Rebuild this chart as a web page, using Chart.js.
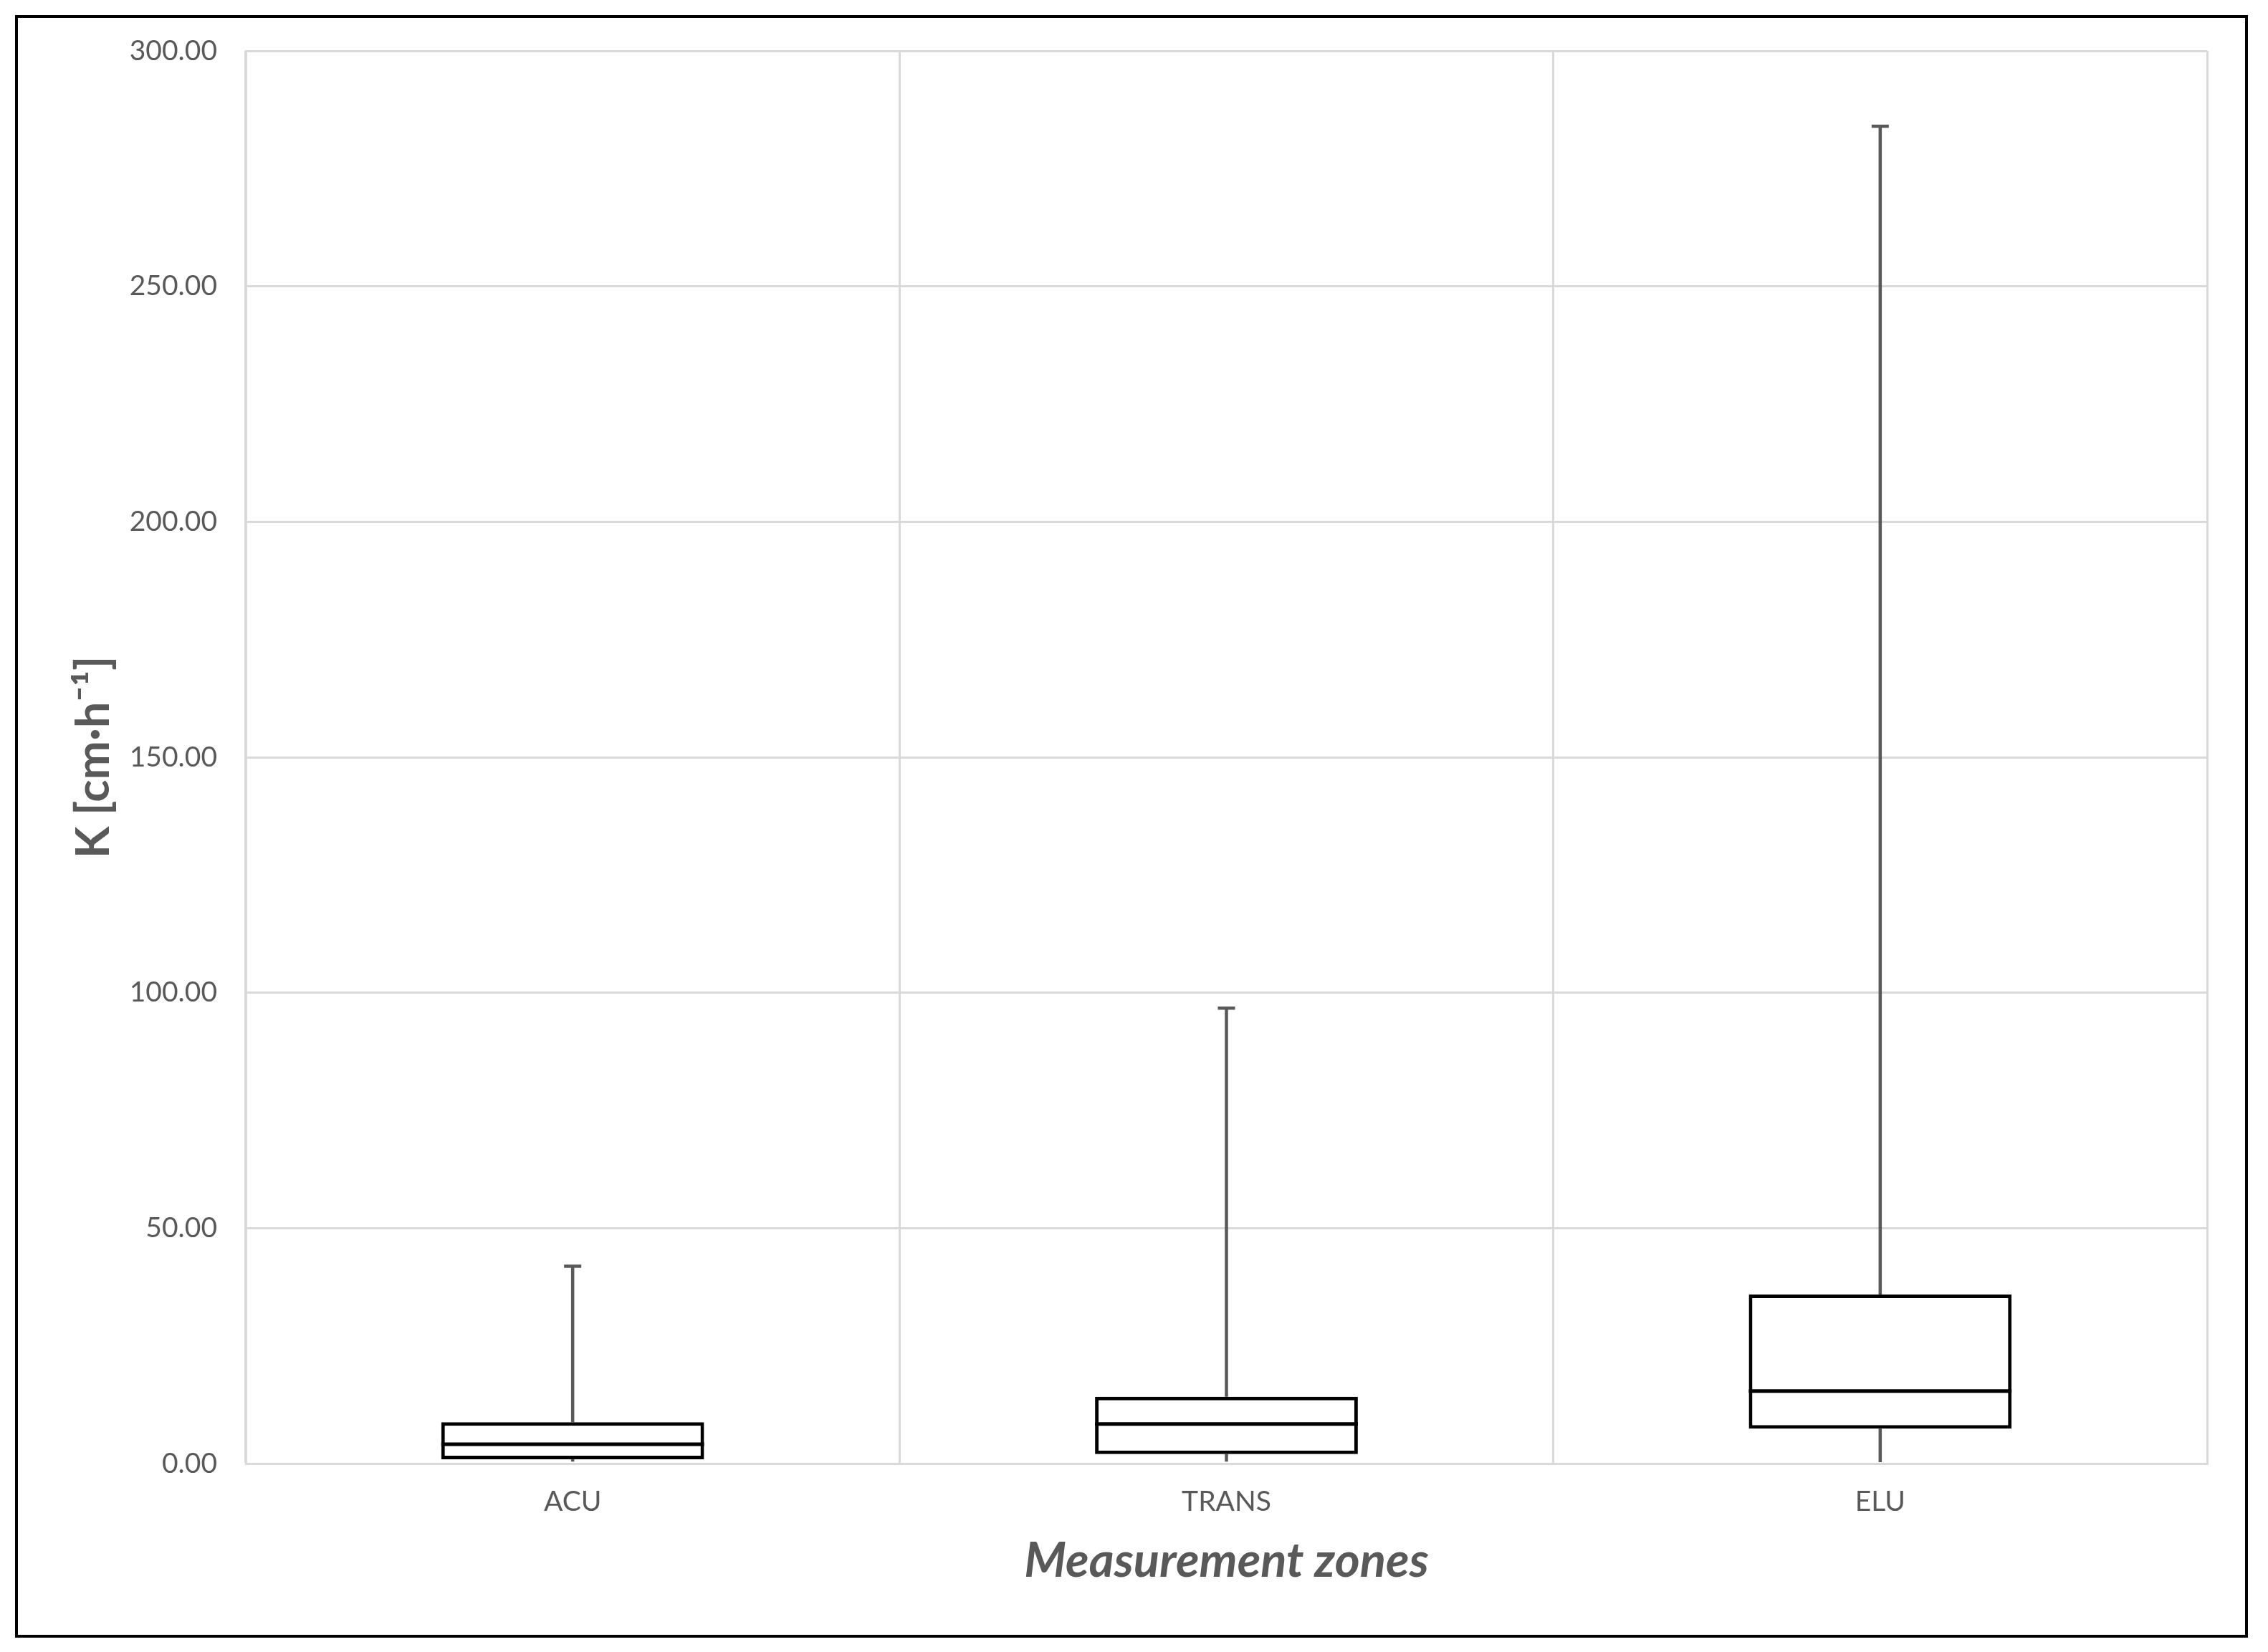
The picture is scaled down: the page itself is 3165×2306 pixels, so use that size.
<!DOCTYPE html>
<html>
<head>
<meta charset="utf-8">
<script src="https://cdn.jsdelivr.net/npm/chart.js@4.4.0/dist/chart.umd.min.js"></script>
<style>
  html, body { margin: 0; padding: 0; background: #fff; }
  canvas { display: block; }
</style>
</head>
<body>
<canvas id="chart" width="3165" height="2306"></canvas>
<script>
// box plot values (K in cm/h)
const zones = ['ACU', 'TRANS', 'ELU'];
const minVals = [0.4, 0.4, 0.3];
const q1Vals = [0.9, 2.0, 7.4];
const medianVals = [4.1, 8.4, 15.4];
const q3Vals = [8.8, 14.2, 35.9];
const maxVals = [41.9, 96.7, 284.0];
const yTicks = [0, 50, 100, 150, 200, 250, 300];

const grey = '#595959';
const gridGrey = '#d9d9d9';

// whiskers, caps and medians around the floating bars
const boxPlot = {
  id: 'boxPlot',
  beforeDatasetsDraw(chart) {
    const ctx = chart.ctx;
    const y = chart.scales.y;
    const meta = chart.getDatasetMeta(0);
    ctx.save();
    ctx.strokeStyle = grey;
    ctx.lineWidth = 4.5;
    meta.data.forEach((bar, i) => {
      const top = y.getPixelForValue(maxVals[i]);
      const bottom = y.getPixelForValue(minVals[i]);
      ctx.beginPath();
      ctx.moveTo(bar.x, top);
      ctx.lineTo(bar.x, y.getPixelForValue(q3Vals[i]));
      ctx.moveTo(bar.x, y.getPixelForValue(q1Vals[i]));
      ctx.lineTo(bar.x, bottom);
      // cap
      ctx.moveTo(bar.x - 12, top);
      ctx.lineTo(bar.x + 12, top);
      ctx.stroke();
    });
    ctx.restore();
  },
  afterDatasetsDraw(chart) {
    const ctx = chart.ctx;
    const y = chart.scales.y;
    const meta = chart.getDatasetMeta(0);
    ctx.save();
    ctx.strokeStyle = '#000';
    ctx.lineWidth = 5;
    meta.data.forEach((bar, i) => {
      const py = y.getPixelForValue(medianVals[i]);
      ctx.beginPath();
      ctx.moveTo(bar.x - bar.width / 2, py);
      ctx.lineTo(bar.x + bar.width / 2, py);
      ctx.stroke();
    });
    ctx.restore();
  },
  afterDraw(chart) {
    // outer frame
    const ctx = chart.ctx;
    ctx.save();
    ctx.strokeStyle = '#000';
    ctx.lineWidth = 4;
    ctx.strokeRect(23, 23, 3112, 2261);
    ctx.restore();
  }
};

const ctx = document.getElementById('chart').getContext('2d');
new Chart(ctx, {
  type: 'bar',
  data: {
    labels: zones,
    datasets: [{
      label: 'K',
      data: zones.map((z, i) => [q1Vals[i], q3Vals[i]]),
      backgroundColor: '#ffffff',
      borderColor: '#000000',
      borderWidth: 5,
      borderSkipped: false,
      barPercentage: 0.402,
      categoryPercentage: 1
    }]
  },
  options: {
    responsive: false,
    animation: false,
    layout: { padding: { left: 0, top: 71, right: 85, bottom: 0 } },
    plugins: {
      legend: { display: false },
      tooltip: { enabled: false }
    },
    scales: {
      x: {
        afterFit: (scale) => { scale.height = 263; },
        grid: { color: gridGrey, lineWidth: 3, offset: true, drawTicks: false },
        border: { color: gridGrey, width: 3 },
        ticks: {
          color: grey,
          padding: 30,
          font: { family: 'Lato', size: 39 }
        },
        title: {
          display: true,
          text: 'Measurement zones',
          color: grey,
          font: { family: 'Lato', size: 67, weight: 'bold', style: 'italic' },
          padding: { top: 0, bottom: 86 }
        }
      },
      y: {
        min: 0,
        max: 300,
        afterFit: (scale) => { scale.width = 343; },
        afterBuildTicks: (scale) => { scale.ticks = yTicks.map(v => ({ value: v })); },
        grid: { color: gridGrey, lineWidth: 3, drawTicks: false },
        border: { color: gridGrey, width: 3 },
        ticks: {
          color: grey,
          padding: 40,
          font: { family: 'Lato', size: 39 },
          callback: (v) => Number(v).toFixed(2)
        },
        title: {
          display: true,
          text: 'K [cm·h⁻¹]',
          color: grey,
          font: { family: 'Lato', size: 65, weight: 'bold' },
          padding: { top: 92, bottom: 0 }
        }
      }
    }
  },
  plugins: [boxPlot]
});
</script>
</body>
</html>
